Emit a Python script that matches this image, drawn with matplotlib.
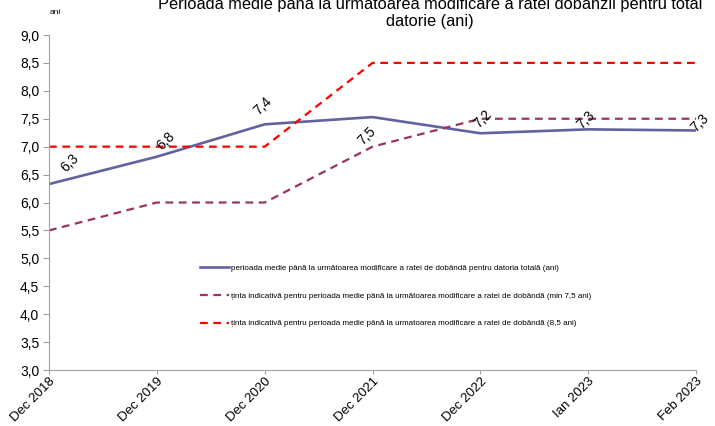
import matplotlib.pyplot as plt

plt.rcParams['font.family'] = ['Liberation Sans', 'DejaVu Sans']

categories = ['Dec 2018', 'Dec 2019', 'Dec 2020', 'Dec 2021', 'Dec 2022', 'Ian 2023', 'Feb 2023']
medie = [6.33, 6.82, 7.40, 7.53, 7.24, 7.31, 7.29]
tinta_min = [5.5, 6.0, 6.0, 7.0, 7.5, 7.5, 7.5]
tinta_85 = [7.0, 7.0, 7.0, 8.5, 8.5, 8.5, 8.5]
labels = ['6,3', '6,8', '7,4', '7,5', '7,2', '7,3', '7,3']
yticks = [3.0, 3.5, 4.0, 4.5, 5.0, 5.5, 6.0, 6.5, 7.0, 7.5, 8.0, 8.5, 9.0]

leg1 = 'perioada medie până la următoarea modificare a ratei de dobândă pentru datoria totală (ani)'
leg2 = 'ținta indicativă pentru perioada medie până la următoarea modificare a ratei de dobândă (min 7,5 ani)'
leg3 = 'ținta indicativă pentru perioada medie până la urmatoarea modificare a ratei de dobândă (8,5 ani)'

fig = plt.figure(figsize=(7.15, 4.26), dpi=100)
ax = fig.add_axes([49 / 715, 1 - 370 / 426, 647 / 715, 335 / 426])

x = list(range(len(categories)))
ax.plot(x, medie, color='#6262a0', lw=1.9, label=leg1)
ax.plot(x, tinta_min, color='#993366', lw=1.6, ls=(0, (3.5, 2.5)), label=leg2)
ax.plot(x, tinta_85, color='#ff0000', lw=1.6, ls=(0, (3.5, 2.5)), label=leg3)

# data labels, offsets in pixels
offsets = [(21, 21), (9, 16), (-2, 18), (-6, -19), (3, 14), (-2, 9), (4, 8)]
for i, lab in enumerate(labels):
    ax.annotate(lab, (x[i], medie[i]), xytext=offsets[i], textcoords='offset pixels',
                ha='center', va='center', rotation=45, fontsize=10)

ax.set_xlim(0, len(categories) - 1)
ax.set_ylim(3.0, 9.0)
ax.set_yticks(yticks)
ax.set_yticklabels([('%.1f' % v).replace('.', ',') for v in yticks], fontsize=10)
ax.set_xticks(x)
ax.set_xticklabels(categories, rotation=45, ha='right', rotation_mode='anchor', fontsize=9.5)
ax.tick_params(axis='x', direction='out', length=3, color='#a0a0a0', pad=1)
ax.tick_params(axis='y', direction='out', length=4, color='#a0a0a0', pad=3)

for s in ['top', 'right']:
    ax.spines[s].set_visible(False)
for s in ['left', 'bottom']:
    ax.spines[s].set_color('#a0a0a0')

fig.text(55 / 715, 1 - 12 / 426, 'ani', fontsize=6, ha='center', va='center')
fig.text(430 / 715, 1 - 13 / 426,
         'Perioada medie până la următoarea modificare a ratei dobânzii pentru total\ndatorie (ani)',
         fontsize=11.8, ha='center', va='center', linespacing=1.1)

fig.legend(loc='upper left', bbox_to_anchor=(193 / 715, 1 - 257 / 426), frameon=False,
           fontsize=5.8, labelspacing=2.5, handlelength=3.6, handletextpad=0.25)

fig.savefig('out.png', dpi=100)
